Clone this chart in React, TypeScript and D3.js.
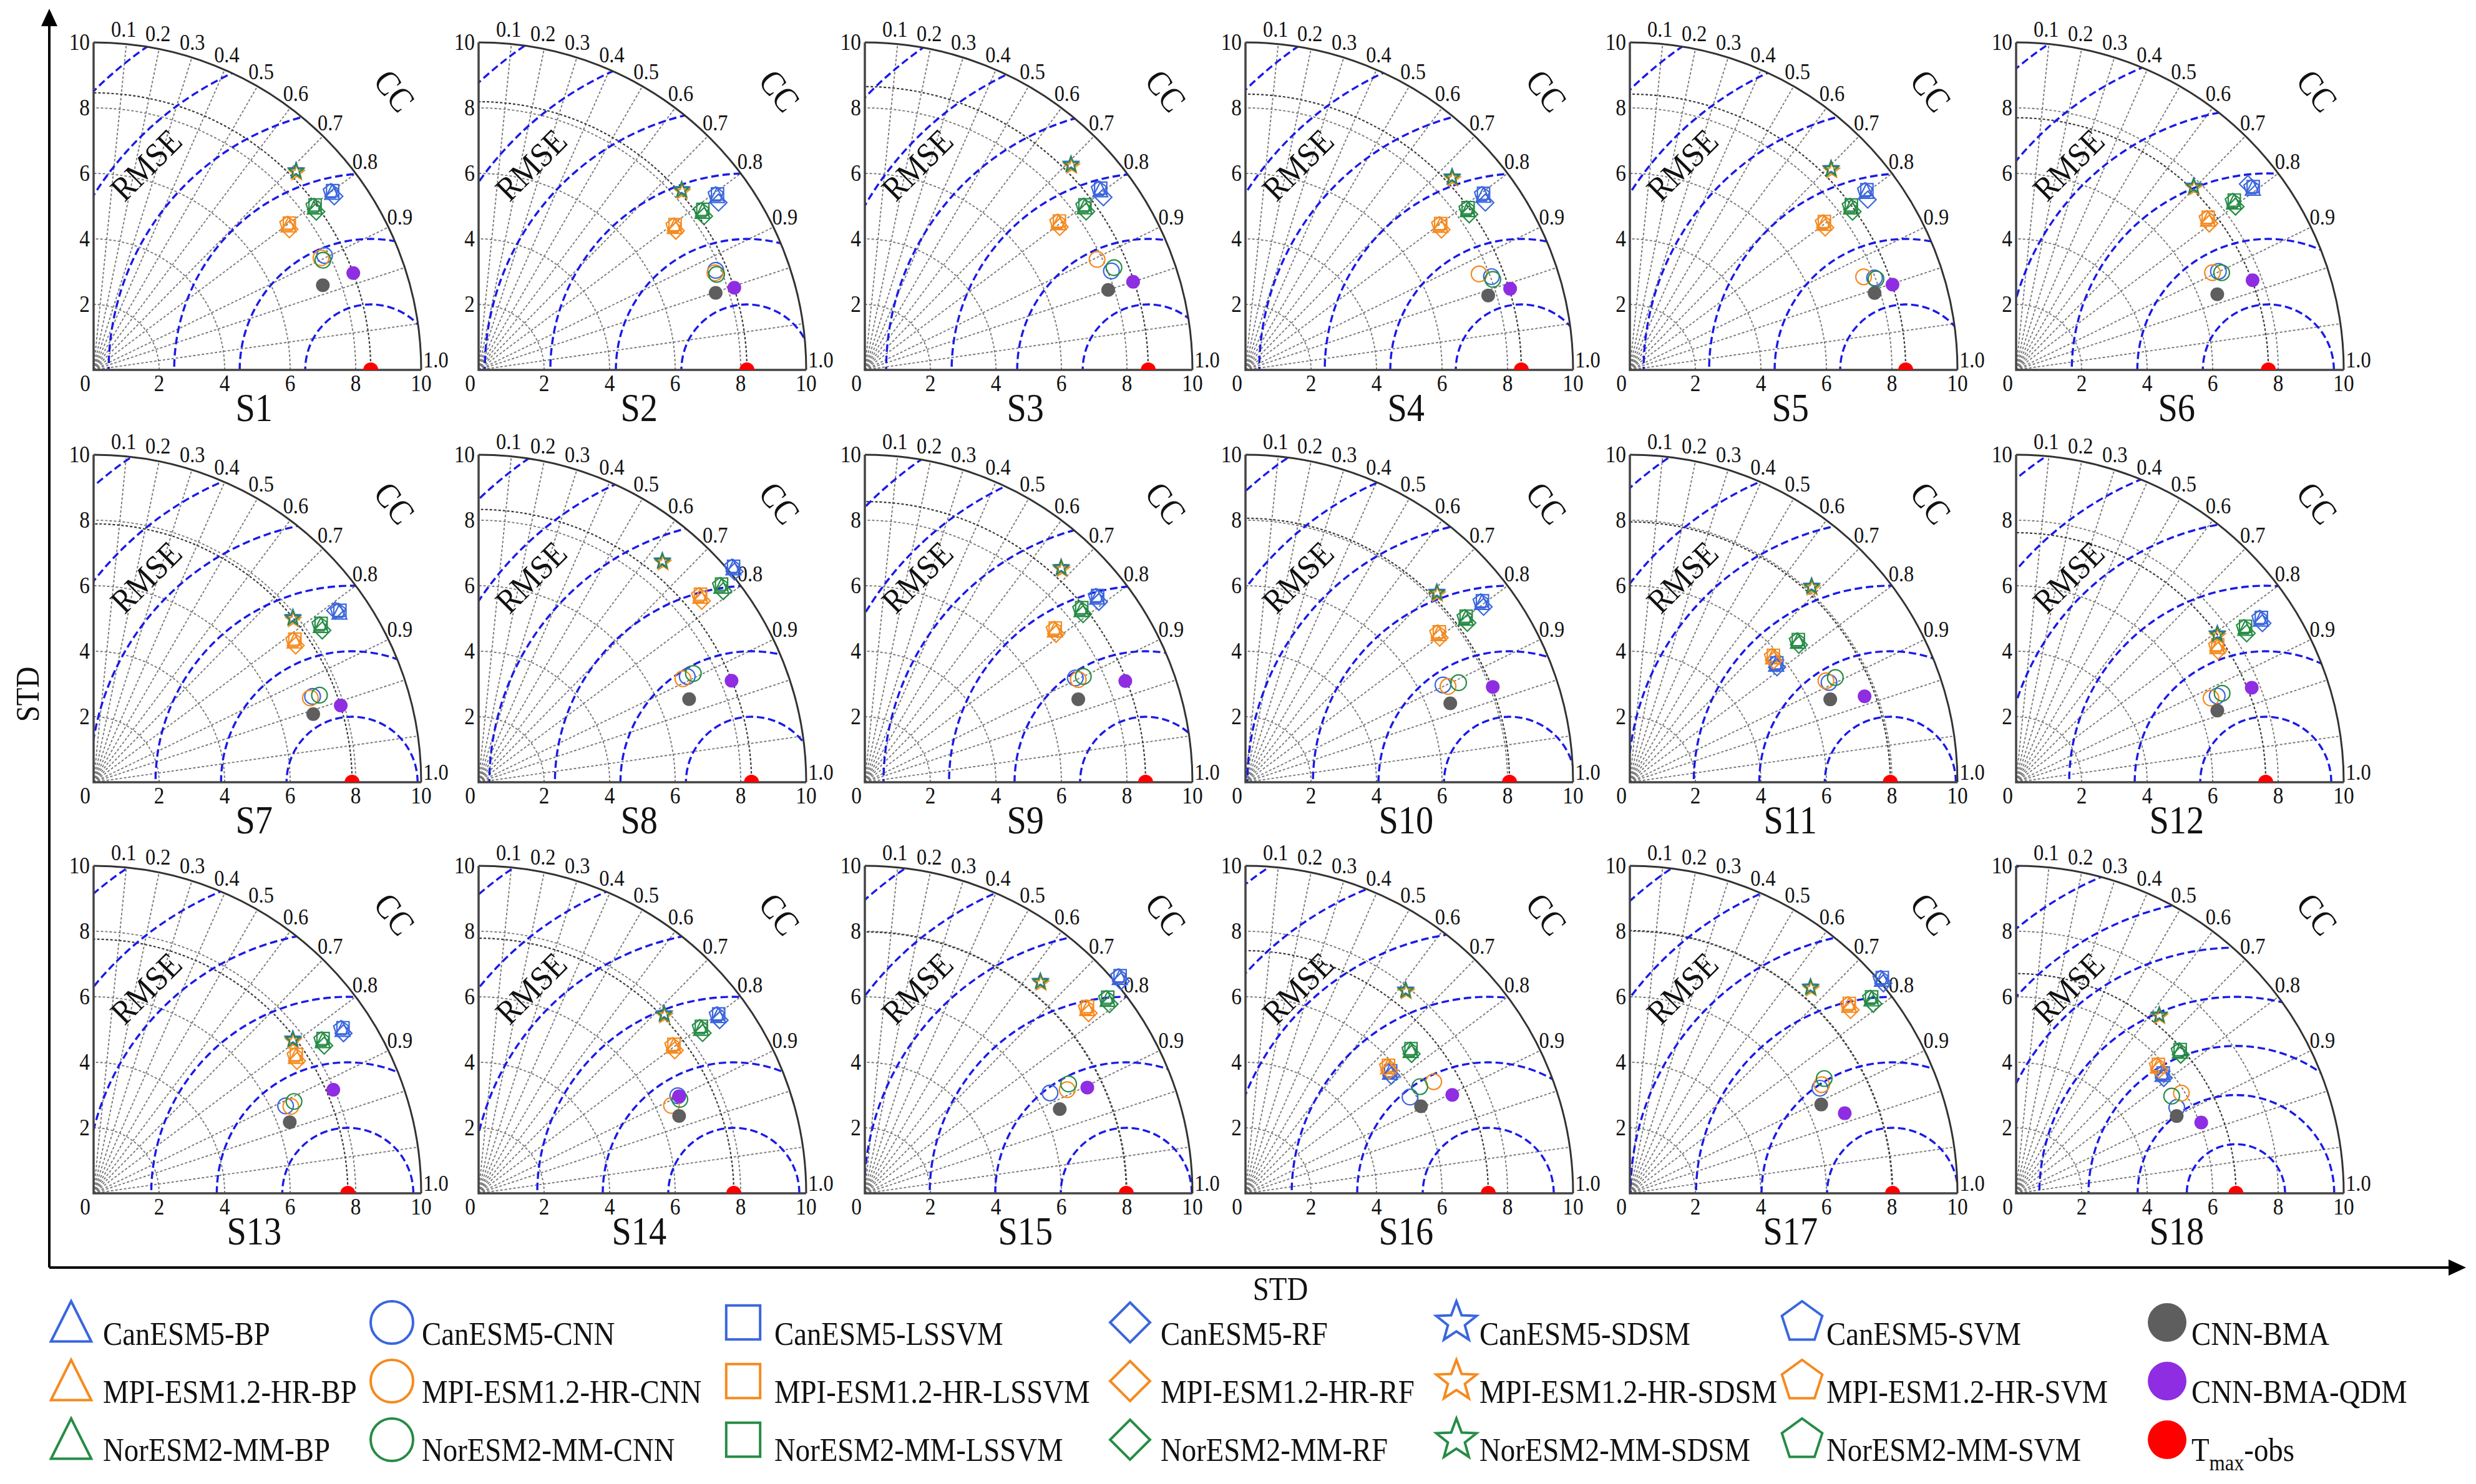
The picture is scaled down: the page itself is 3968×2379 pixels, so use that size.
import React, { useEffect, useRef } from 'react';
import * as d3 from 'd3';

const W = 3968, H = 2379;
const FONT = "'Liberation Serif', 'Times New Roman', serif";

// sites, one Taylor diagram each
const sites = ['S1','S2','S3','S4','S5','S6','S7','S8','S9','S10','S11','S12','S13','S14','S15','S16','S17','S18'];
// observed STD of Tmax per site (red dot on the x axis)
const obsStd = [8.46,8.19,8.65,8.42,8.42,7.70,7.89,8.33,8.57,8.06,7.95,7.62,7.76,7.79,7.98,7.41,8.02,6.71];
// spacing of the blue RMSE contours
const rmseStep = [2,2,2,2,2,2,2,2,2,2,2,2,2,2,2,2,2,1.5];

const stdTicks = [0,2,4,6,8,10];
const stdArcs = [2,4,6,8];
const ccLabels = [0.1,0.2,0.3,0.4,0.5,0.6,0.7,0.8,0.9,1.0];
const ccLines = [0.1,0.2,0.3,0.4,0.5,0.6,0.7,0.8,0.9,0.95,0.99];

// [std, cc] per site
const canBP = [[9.08,0.802],[9.02,0.807],[9.05,0.794],[9.01,0.806],[9.05,0.798],[9.11,0.793],[9.13,0.822],[10.17,0.765],[9.07,0.782],[9.07,0.796],[5.74,0.778],[8.98,0.832],[9.10,0.835],[9.11,0.803],[10.20,0.763],[5.76,0.766],[10.10,0.762],[5.76,0.776]];
const canCNN = [[7.87,0.896],[7.85,0.922],[8.11,0.928],[8.03,0.935],[7.98,0.936],[6.87,0.899],[7.18,0.931],[7.14,0.892],[7.17,0.896],[6.72,0.897],[6.80,0.894],[6.68,0.919],[6.44,0.910],[6.77,0.898],[6.43,0.879],[5.82,0.863],[6.63,0.875],[5.56,0.882]];
const canLSSVM = [[9.12,0.800],[9.06,0.805],[9.09,0.792],[9.05,0.803],[9.09,0.796],[9.15,0.791],[9.17,0.820],[10.20,0.763],[9.11,0.780],[9.11,0.794],[5.78,0.776],[9.02,0.830],[9.14,0.833],[9.15,0.801],[10.24,0.761],[5.80,0.764],[10.14,0.760],[5.80,0.774]];
const canRF = [[9.06,0.811],[8.93,0.820],[8.99,0.810],[8.93,0.820],[8.93,0.813],[9.07,0.780],[9.05,0.815],[10.12,0.772],[9.02,0.792],[9.03,0.805],[5.70,0.788],[8.95,0.840],[9.06,0.842],[9.06,0.812],[10.15,0.770],[5.72,0.778],[10.05,0.770],[5.72,0.788]];
const canSDSM = [[8.68,0.712],[8.30,0.747],[8.90,0.707],[8.64,0.730],[8.70,0.706],[7.81,0.694],[7.90,0.770],[8.79,0.638],[8.89,0.674],[8.24,0.709],[8.17,0.679],[7.64,0.804],[7.70,0.790],[7.89,0.718],[8.41,0.637],[7.91,0.618],[8.38,0.658],[6.99,0.625]];
const canSVM = [[9.06,0.799],[9.00,0.804],[9.03,0.791],[8.99,0.803],[9.03,0.795],[9.09,0.790],[9.11,0.819],[10.15,0.762],[9.05,0.779],[9.05,0.793],[5.73,0.775],[8.96,0.829],[9.08,0.832],[9.09,0.800],[10.18,0.760],[5.75,0.763],[10.08,0.759],[5.74,0.773]];

const mpiBP = [[7.42,0.802],[7.42,0.807],[7.43,0.796],[7.41,0.803],[7.43,0.798],[7.45,0.786],[7.50,0.818],[8.84,0.766],[7.44,0.780],[7.44,0.792],[5.81,0.752],[7.41,0.829],[7.46,0.828],[7.46,0.798],[8.83,0.769],[5.82,0.748],[8.82,0.759],[5.82,0.744]];
const mpiCNN = [[7.74,0.897],[7.80,0.925],[7.85,0.903],[7.71,0.925],[7.68,0.929],[6.69,0.896],[7.10,0.932],[6.99,0.892],[7.23,0.901],[6.84,0.904],[6.74,0.888],[6.48,0.918],[6.58,0.915],[6.47,0.910],[6.94,0.890],[6.68,0.860],[6.73,0.870],[5.90,0.855]];
const mpiLSSVM = [[7.47,0.800],[7.46,0.804],[7.48,0.794],[7.45,0.800],[7.47,0.795],[7.49,0.783],[7.54,0.815],[8.88,0.763],[7.48,0.777],[7.49,0.790],[5.85,0.749],[7.45,0.826],[7.50,0.825],[7.50,0.795],[8.87,0.766],[5.86,0.745],[8.86,0.756],[5.86,0.741]];
const mpiRF = [[7.36,0.812],[7.37,0.817],[7.38,0.806],[7.36,0.813],[7.38,0.808],[7.40,0.797],[7.45,0.828],[8.78,0.776],[7.39,0.790],[7.39,0.802],[5.76,0.763],[7.36,0.838],[7.41,0.838],[7.41,0.808],[8.77,0.779],[5.77,0.760],[8.76,0.769],[5.77,0.756]];
const mpiSDSM = [[8.64,0.718],[8.26,0.753],[8.86,0.713],[8.60,0.736],[8.66,0.712],[7.77,0.700],[7.86,0.776],[8.75,0.644],[8.85,0.680],[8.20,0.715],[8.13,0.685],[7.60,0.810],[7.66,0.796],[7.85,0.724],[8.37,0.643],[7.87,0.624],[8.34,0.664],[6.95,0.631]];
const mpiSVM = [[7.40,0.799],[7.40,0.804],[7.41,0.793],[7.39,0.800],[7.41,0.795],[7.43,0.783],[7.48,0.815],[8.82,0.763],[7.42,0.777],[7.42,0.789],[5.79,0.749],[7.39,0.826],[7.44,0.825],[7.44,0.795],[8.81,0.766],[5.80,0.745],[8.80,0.756],[5.80,0.741]];

const norBP = [[8.39,0.805],[8.38,0.816],[8.36,0.803],[8.37,0.811],[8.39,0.805],[8.40,0.792],[8.43,0.823],[9.53,0.778],[8.46,0.782],[8.39,0.802],[6.70,0.766],[8.43,0.830],[8.41,0.832],[8.46,0.803],[9.49,0.781],[6.67,0.756],[9.47,0.779],[6.62,0.755]];
const norCNN = [[7.76,0.902],[7.83,0.928],[8.22,0.925],[8.04,0.939],[8.01,0.938],[6.94,0.904],[7.39,0.933],[7.35,0.892],[7.41,0.900],[7.18,0.906],[7.04,0.891],[6.85,0.918],[6.73,0.909],[6.78,0.906],[7.06,0.881],[6.24,0.853],[6.89,0.861],[5.60,0.848]];
const norLSSVM = [[8.43,0.802],[8.42,0.813],[8.40,0.800],[8.41,0.808],[8.43,0.802],[8.44,0.789],[8.47,0.820],[9.57,0.775],[8.50,0.779],[8.43,0.799],[6.74,0.763],[8.47,0.827],[8.45,0.829],[8.50,0.800],[9.53,0.778],[6.71,0.753],[9.51,0.776],[6.66,0.752]];
const norRF = [[8.34,0.815],[8.33,0.826],[8.31,0.813],[8.32,0.821],[8.34,0.815],[8.35,0.802],[8.38,0.833],[9.48,0.788],[8.41,0.792],[8.34,0.812],[6.65,0.776],[8.38,0.840],[8.36,0.842],[8.41,0.813],[9.44,0.791],[6.62,0.766],[9.42,0.789],[6.57,0.765]];
const norSDSM = [[8.66,0.714],[8.28,0.749],[8.88,0.709],[8.62,0.732],[8.68,0.708],[7.79,0.696],[7.88,0.772],[8.77,0.640],[8.87,0.676],[8.22,0.711],[8.15,0.681],[7.62,0.806],[7.68,0.792],[7.87,0.720],[8.39,0.639],[7.89,0.620],[8.36,0.660],[6.97,0.627]];
const norSVM = [[8.37,0.802],[8.36,0.813],[8.34,0.800],[8.35,0.808],[8.37,0.802],[8.38,0.789],[8.41,0.820],[9.51,0.775],[8.44,0.779],[8.37,0.799],[6.68,0.763],[8.41,0.827],[8.39,0.829],[8.44,0.800],[9.47,0.778],[6.65,0.753],[9.45,0.776],[6.60,0.752]];

const cnnBMA = [[7.46,0.938],[7.61,0.951],[7.82,0.950],[7.75,0.956],[7.83,0.954],[6.56,0.936],[7.02,0.955],[6.91,0.930],[6.99,0.932],[6.70,0.933],[6.62,0.924],[6.52,0.942],[6.37,0.940],[6.56,0.933],[6.48,0.918],[5.98,0.896],[6.44,0.907],[5.44,0.901]];
const cnnBMAQDM = [[8.46,0.937],[8.20,0.952],[8.62,0.950],[8.45,0.956],[8.43,0.951],[7.72,0.935],[7.90,0.955],[8.32,0.928],[8.53,0.932],[8.09,0.933],[7.63,0.939],[7.75,0.928],[7.97,0.918],[6.80,0.900],[7.52,0.903],[6.99,0.903],[7.00,0.937],[6.05,0.934]];

const BLUE = '#3a66dd', ORANGE = '#f58a1f', GREEN = '#268c45';
const GRAY = '#5e5e5e', PURPLE = '#8e2de2', RED = '#ff0000';

// legend columns (x) and rows (y), panel grid origins
const legColMark = [114, 628, 1191, 1811, 2334, 2888, 3473];
const legColText = [165, 676, 1241, 1860, 2371, 2927, 3512];
const legRowMark = [2120, 2214, 2308];
const legRowText = [2156, 2249, 2342];
const colX = [150, 767, 1386, 1996, 2612, 3231];
const rowY = [593, 1254, 1913];
const R = 525;

type Series = { name: string; shape: string; color: string; data: number[][]; col: number; row: number; filled?: boolean };

const series: Series[] = [
  { name: 'CanESM5-SVM', shape: 'pentagon', color: BLUE, data: canSVM, col: 5, row: 0 },
  { name: 'MPI-ESM1.2-HR-SVM', shape: 'pentagon', color: ORANGE, data: mpiSVM, col: 5, row: 1 },
  { name: 'NorESM2-MM-SVM', shape: 'pentagon', color: GREEN, data: norSVM, col: 5, row: 2 },
  { name: 'CanESM5-LSSVM', shape: 'square', color: BLUE, data: canLSSVM, col: 2, row: 0 },
  { name: 'MPI-ESM1.2-HR-LSSVM', shape: 'square', color: ORANGE, data: mpiLSSVM, col: 2, row: 1 },
  { name: 'NorESM2-MM-LSSVM', shape: 'square', color: GREEN, data: norLSSVM, col: 2, row: 2 },
  { name: 'CanESM5-BP', shape: 'triangle', color: BLUE, data: canBP, col: 0, row: 0 },
  { name: 'MPI-ESM1.2-HR-BP', shape: 'triangle', color: ORANGE, data: mpiBP, col: 0, row: 1 },
  { name: 'NorESM2-MM-BP', shape: 'triangle', color: GREEN, data: norBP, col: 0, row: 2 },
  { name: 'CanESM5-RF', shape: 'diamond', color: BLUE, data: canRF, col: 3, row: 0 },
  { name: 'MPI-ESM1.2-HR-RF', shape: 'diamond', color: ORANGE, data: mpiRF, col: 3, row: 1 },
  { name: 'NorESM2-MM-RF', shape: 'diamond', color: GREEN, data: norRF, col: 3, row: 2 },
  { name: 'CanESM5-SDSM', shape: 'star', color: BLUE, data: canSDSM, col: 4, row: 0 },
  { name: 'MPI-ESM1.2-HR-SDSM', shape: 'star', color: ORANGE, data: mpiSDSM, col: 4, row: 1 },
  { name: 'NorESM2-MM-SDSM', shape: 'star', color: GREEN, data: norSDSM, col: 4, row: 2 },
  { name: 'CanESM5-CNN', shape: 'circle', color: BLUE, data: canCNN, col: 1, row: 0 },
  { name: 'MPI-ESM1.2-HR-CNN', shape: 'circle', color: ORANGE, data: mpiCNN, col: 1, row: 1 },
  { name: 'NorESM2-MM-CNN', shape: 'circle', color: GREEN, data: norCNN, col: 1, row: 2 },
  { name: 'CNN-BMA', shape: 'circle', color: GRAY, data: cnnBMA, col: 6, row: 0, filled: true },
  { name: 'CNN-BMA-QDM', shape: 'circle', color: PURPLE, data: cnnBMAQDM, col: 6, row: 1, filled: true },
];

function shapePath(shape: string, s: number): string {
  const p = d3.path();
  const h = s / 2;
  if (shape === 'triangle') {
    p.moveTo(0, -h); p.lineTo(0.95 * h, 0.9 * h); p.lineTo(-0.95 * h, 0.9 * h); p.closePath();
  } else if (shape === 'square') {
    const a = h * 0.85;
    p.rect(-a, -a, 2 * a, 2 * a);
  } else if (shape === 'diamond') {
    p.moveTo(0, -h); p.lineTo(h, 0); p.lineTo(0, h); p.lineTo(-h, 0); p.closePath();
  } else if (shape === 'star') {
    for (let k = 0; k < 10; k++) {
      const rr = k % 2 ? h * 0.42 : h;
      const a = -Math.PI / 2 + k * Math.PI / 5;
      if (k === 0) p.moveTo(rr * Math.cos(a), rr * Math.sin(a));
      else p.lineTo(rr * Math.cos(a), rr * Math.sin(a));
    }
    p.closePath();
  } else if (shape === 'pentagon') {
    for (let k = 0; k < 5; k++) {
      const a = -Math.PI / 2 + k * 2 * Math.PI / 5;
      if (k === 0) p.moveTo(h * Math.cos(a), h * Math.sin(a));
      else p.lineTo(h * Math.cos(a), h * Math.sin(a));
    }
    p.closePath();
  } else {
    p.moveTo(h, 0);
    p.arc(0, 0, h, 0, 2 * Math.PI);
  }
  return p.toString();
}

const quarter = (rad: number) => `M${rad},0A${rad},${rad} 0 0 0 0,${-rad}`;

export default function App() {
  const ref = useRef<SVGSVGElement>(null);

  useEffect(() => {
    const svg = d3.select(ref.current);
    svg.selectAll('*').remove();
    svg.append('rect').attr('width', W).attr('height', H).attr('fill', '#fff');

    const r = d3.scaleLinear().domain([0, 10]).range([0, R]);
    const pos = (d: number[]) => {
      const s = d[0], c = d[1];
      return [r(s * c), -r(s * Math.sqrt(1 - c * c))];
    };

    // text squeezed a bit horizontally, like the original typeface
    const label = (sel: any, x: number, y: number, t: string, size: number, anchor = 'middle', rot = 0, sx = 0.9) =>
      sel.append('text')
        .attr('transform', `translate(${x},${y}) rotate(${rot}) scale(${sx},1)`)
        .attr('text-anchor', anchor)
        .attr('font-family', FONT).attr('font-size', size).attr('fill', '#111').text(t);

    sites.forEach((site, i) => {
      const g = svg.append('g')
        .attr('transform', `translate(${colX[i % 6]},${rowY[Math.floor(i / 6)]})`);
      const clipId = 'quarter' + i;
      g.append('clipPath').attr('id', clipId)
        .append('path').attr('d', `M0,0L${R},0A${R},${R} 0 0 0 0,${-R}Z`);
      const obsClip = 'obs' + i;
      g.append('clipPath').attr('id', obsClip)
        .append('rect').attr('x', -20).attr('y', -R - 40).attr('width', R + 80).attr('height', R + 40);

      // correlation rays
      g.selectAll('.ray').data(ccLines).enter().append('line')
        .attr('x1', 0).attr('y1', 0)
        .attr('x2', c => R * c)
        .attr('y2', c => -R * Math.sqrt(1 - c * c))
        .attr('stroke', '#7a7a7a').attr('stroke-width', 1.9).attr('stroke-dasharray', '4,3');

      // std arcs
      g.selectAll('.sarc').data(stdArcs).enter().append('path')
        .attr('d', s => quarter(r(s)))
        .attr('fill', 'none').attr('stroke', '#7a7a7a').attr('stroke-width', 1.9).attr('stroke-dasharray', '4,3');
      g.append('path').attr('d', quarter(r(obsStd[i])))
        .attr('fill', 'none').attr('stroke', '#3a3a3a').attr('stroke-width', 2.2).attr('stroke-dasharray', '4,3');

      // RMSE contours centred on the observation
      const cx = r(obsStd[i]);
      const radii = d3.range(rmseStep[i], 14.01, rmseStep[i]);
      g.append('g').attr('clip-path', `url(#${clipId})`)
        .selectAll('path').data(radii).enter().append('path')
        .attr('d', e => `M${cx + r(e)},0A${r(e)},${r(e)} 0 0 0 ${cx - r(e)},0`)
        .attr('fill', 'none').attr('stroke', '#1a1ae8').attr('stroke-width', 3.4).attr('stroke-dasharray', '12,6');

      // frame
      g.append('path').attr('d', quarter(R)).attr('fill', 'none').attr('stroke', '#333').attr('stroke-width', 3);
      g.append('path').attr('d', `M0,${-R}L0,0L${R},0`).attr('fill', 'none').attr('stroke', '#444').attr('stroke-width', 3.5);

      stdTicks.forEach(t => {
        if (t === 0) label(g, -5, 34, '0', 37, 'end');
        else {
          label(g, r(t), 34, String(t), 37);
          label(g, -6, -r(t) + 12, String(t), 37, 'end');
        }
      });

      ccLabels.forEach(c => {
        const a = Math.acos(c) + (c === 1 ? 0.03 : 0.012);
        label(g, r(10.45) * Math.cos(a), -r(10.45) * Math.sin(a) + 12, c.toFixed(1), 36);
      });

      label(g, r(1.85), -r(6.35) + 18, 'RMSE', 55, 'middle', -45);
      label(g, r(8.9), -r(8.3), 'CC', 56, 'middle', 52);
      g.select('text:last-child');
      label(g, r(4.9), 82, site, 64, 'middle', 0, 0.88);

      // markers
      series.forEach(sr => {
        const p = pos(sr.data[i]);
        const size = sr.filled ? 22 : sr.shape === 'diamond' ? 27 : sr.shape === 'square' ? 23 : 25;
        g.append('path')
          .attr('d', shapePath(sr.shape, size))
          .attr('transform', `translate(${p[0]},${p[1]})`)
          .attr('fill', sr.filled ? sr.color : 'none')
          .attr('stroke', sr.filled ? 'none' : sr.color)
          .attr('stroke-width', 2.2);
      });
      g.append('circle').attr('clip-path', `url(#${obsClip})`)
        .attr('cx', r(obsStd[i])).attr('cy', 0).attr('r', 12).attr('fill', RED);
    });

    // outer STD axes with arrows
    const ax = svg.append('g');
    ax.append('line').attr('x1', 79).attr('y1', 2032).attr('x2', 79).attr('y2', 40).attr('stroke', '#000').attr('stroke-width', 4);
    ax.append('path').attr('d', 'M79,14L66,42L92,42Z').attr('fill', '#000');
    ax.append('line').attr('x1', 79).attr('y1', 2032).attr('x2', 3925).attr('y2', 2032).attr('stroke', '#000').attr('stroke-width', 4);
    ax.append('path').attr('d', 'M3952,2032L3924,2019L3924,2045Z').attr('fill', '#000');
    label(ax, 2052, 2084, 'STD', 52);
    label(ax, 62, 1113, 'STD', 52, 'middle', -90);

    // legend
    const lg = svg.append('g');
    const legItems = [...series, { name: 'obs', shape: 'circle', color: RED, data: [], col: 6, row: 2, filled: true }];
    legItems.forEach(sr => {
      const size = sr.filled ? 62 : sr.shape === 'diamond' || sr.shape === 'square' ? 64 : 68;
      lg.append('path')
        .attr('d', shapePath(sr.shape, size))
        .attr('transform', `translate(${legColMark[sr.col]},${legRowMark[sr.row]})`)
        .attr('fill', sr.filled ? sr.color : 'none')
        .attr('stroke', sr.filled ? 'none' : sr.color)
        .attr('stroke-width', 4);
      const t = lg.append('text')
        .attr('transform', `translate(${legColText[sr.col]},${legRowText[sr.row]}) scale(0.9,1)`)
        .attr('font-family', FONT).attr('font-size', 52).attr('fill', '#111');
      if (sr.name === 'obs') {
        t.append('tspan').text('T');
        t.append('tspan').attr('font-size', 36).attr('dy', 15).text('max');
        t.append('tspan').attr('dy', -15).text('-obs');
      } else t.text(sr.name);
    });
  }, []);

  return (
    <div style={{ position: 'absolute', left: 0, top: 0 }}>
      <svg ref={ref} width={W} height={H} style={{ display: 'block' }} />
    </div>
  );
}
